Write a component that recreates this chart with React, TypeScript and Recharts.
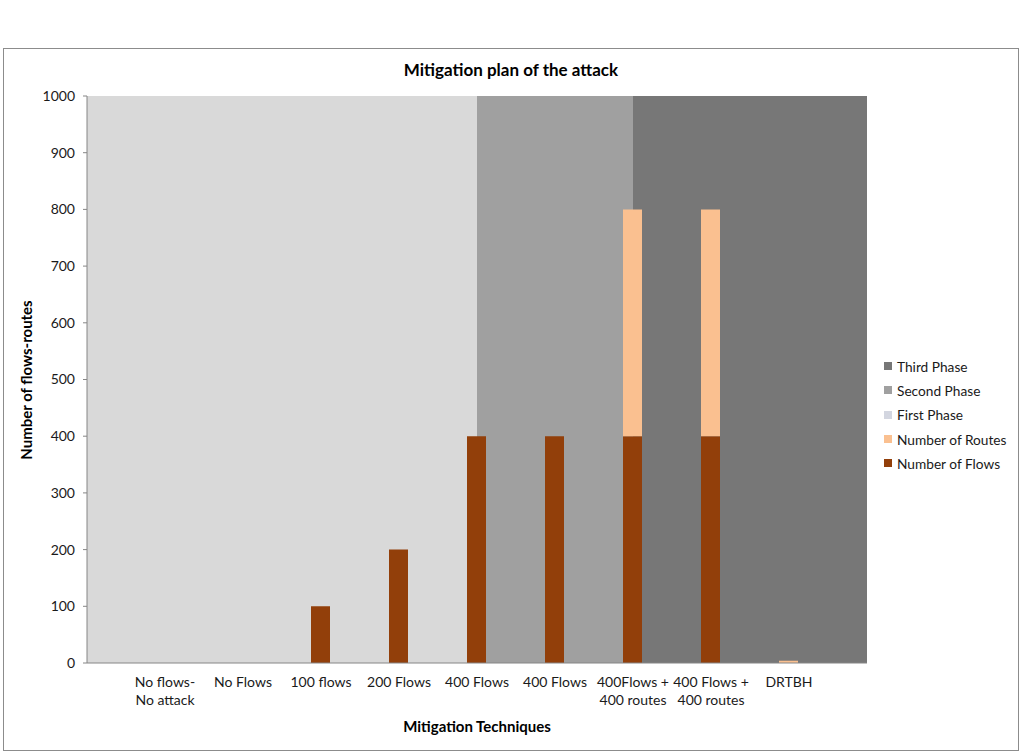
import { ComposedChart, Bar, Area, XAxis, YAxis } from "recharts";

// category positions on the numeric x axis (0 and 10 are empty edges)
const positions = [0, 1, 2, 3, 4, 5, 6, 7, 8, 9, 10];
const categories = [
  "",
  "No flows-\nNo attack",
  "No Flows",
  "100 flows",
  "200 Flows",
  "400 Flows",
  "400 Flows",
  "400Flows +\n400 routes",
  "400 Flows +\n400 routes",
  "DRTBH",
  "",
];
const flows = [null, 0, 0, 100, 200, 400, 400, 400, 400, 0, null];
const routes = [null, 0, 0, 0, 0, 0, 0, 400, 400, 4, null];
const firstPhase = [1000, 1000, 1000, 1000, 1000, 1000, null, null, null, null, null];
const secondPhase = [null, null, null, null, null, 1000, 1000, 1000, null, null, null];
const thirdPhase = [null, null, null, null, null, null, null, 1000, 1000, 1000, 1000];
const yTicks = [0, 100, 200, 300, 400, 500, 600, 700, 800, 900, 1000];

const COLORS = {
  third: "#777777",
  second: "#a0a0a0",
  first: "#d9d9d9",
  firstSwatch: "#d3d6e0",
  routes: "#fac090",
  flows: "#923f0a",
};

const legendItems = [
  { name: "Third Phase", color: COLORS.third },
  { name: "Second Phase", color: COLORS.second },
  { name: "First Phase", color: COLORS.firstSwatch },
  { name: "Number of Routes", color: COLORS.routes },
  { name: "Number of Flows", color: COLORS.flows },
];

const data = positions.map((p, i) => ({
  pos: p,
  label: categories[i],
  flows: flows[i],
  routes: routes[i],
  first: firstPhase[i],
  second: secondPhase[i],
  third: thirdPhase[i],
}));

const FONT = "Lato, 'Open Sans', sans-serif";

function CategoryTick(props: any) {
  const { x, y, payload } = props;
  const lines = (categories[payload.value] || "").split("\n");
  return (
    <text x={x} y={y} textAnchor="middle" fill="#1a1a1a" fontSize={14} fontFamily={FONT}>
      {lines.map((l: string, i: number) => (
        <tspan key={i} x={x} dy={i === 0 ? 16 : 18}>
          {l}
        </tspan>
      ))}
    </text>
  );
}

export default function App() {
  return (
    <div
      style={{
        position: "absolute",
        left: 0,
        top: 0,
        width: 1024,
        height: 755,
        background: "#fff",
        fontFamily: FONT,
      }}
    >
      <div
        style={{
          position: "absolute",
          left: 3,
          top: 48,
          width: 1014,
          height: 701,
          border: "1px solid #8c8c8c",
        }}
      >
        <ComposedChart
          width={1014}
          height={701}
          data={data}
          margin={{ top: 47, right: 151, bottom: 0, left: 0 }}
        >
          <XAxis
            dataKey="pos"
            type="number"
            domain={[0, 10]}
            ticks={[1, 2, 3, 4, 5, 6, 7, 8, 9]}
            tick={<CategoryTick />}
            tickLine={false}
            axisLine={{ stroke: "#868686" }}
            height={87}
            interval={0}
            allowDecimals={false}
          />
          <YAxis
            domain={[0, 1000]}
            ticks={yTicks}
            width={83}
            tickSize={4}
            tickMargin={8}
            axisLine={{ stroke: "#868686" }}
            tickLine={{ stroke: "#868686" }}
            tick={{ fill: "#1a1a1a", fontSize: 14, fontFamily: FONT }}
            interval={0}
          />
          <Area
            dataKey="first"
            type="linear"
            fill={COLORS.first}
            fillOpacity={1}
            stroke="none"
            isAnimationActive={false}
            dot={false}
            activeDot={false}
          />
          <Area
            dataKey="second"
            type="linear"
            fill={COLORS.second}
            fillOpacity={1}
            stroke="none"
            isAnimationActive={false}
            dot={false}
            activeDot={false}
          />
          <Area
            dataKey="third"
            type="linear"
            fill={COLORS.third}
            fillOpacity={1}
            stroke="none"
            isAnimationActive={false}
            dot={false}
            activeDot={false}
          />
          <Bar dataKey="flows" stackId="a" fill={COLORS.flows} barSize={19} isAnimationActive={false} />
          <Bar dataKey="routes" stackId="a" fill={COLORS.routes} barSize={19} isAnimationActive={false} />
        </ComposedChart>

        <div
          style={{
            position: "absolute",
            left: 0,
            width: 1014,
            top: 10,
            textAlign: "center",
            fontWeight: 700,
            fontSize: 17,
            color: "#000",
          }}
        >
          Mitigation plan of the attack
        </div>
        <div
          style={{
            position: "absolute",
            left: 393,
            width: 160,
            top: 668,
            textAlign: "center",
            fontWeight: 700,
            fontSize: 15,
            color: "#000",
            whiteSpace: "nowrap",
          }}
        >
          Mitigation Techniques
        </div>
        <div
          style={{
            position: "absolute",
            left: 22 - 100,
            top: 331 - 10,
            width: 200,
            height: 20,
            lineHeight: "20px",
            textAlign: "center",
            fontWeight: 700,
            fontSize: 15,
            color: "#000",
            transform: "rotate(-90deg)",
            whiteSpace: "nowrap",
          }}
        >
          Number of flows-routes
        </div>
        <div style={{ position: "absolute", left: 880, top: 305 }}>
          {legendItems.map((it) => (
            <div
              key={it.name}
              style={{ display: "flex", alignItems: "center", height: 24.3, fontSize: 13.7, color: "#1a1a1a" }}
            >
              <span
                style={{ display: "inline-block", width: 8, height: 8, background: it.color, marginRight: 5 }}
              />
              {it.name}
            </div>
          ))}
        </div>
      </div>
    </div>
  );
}
